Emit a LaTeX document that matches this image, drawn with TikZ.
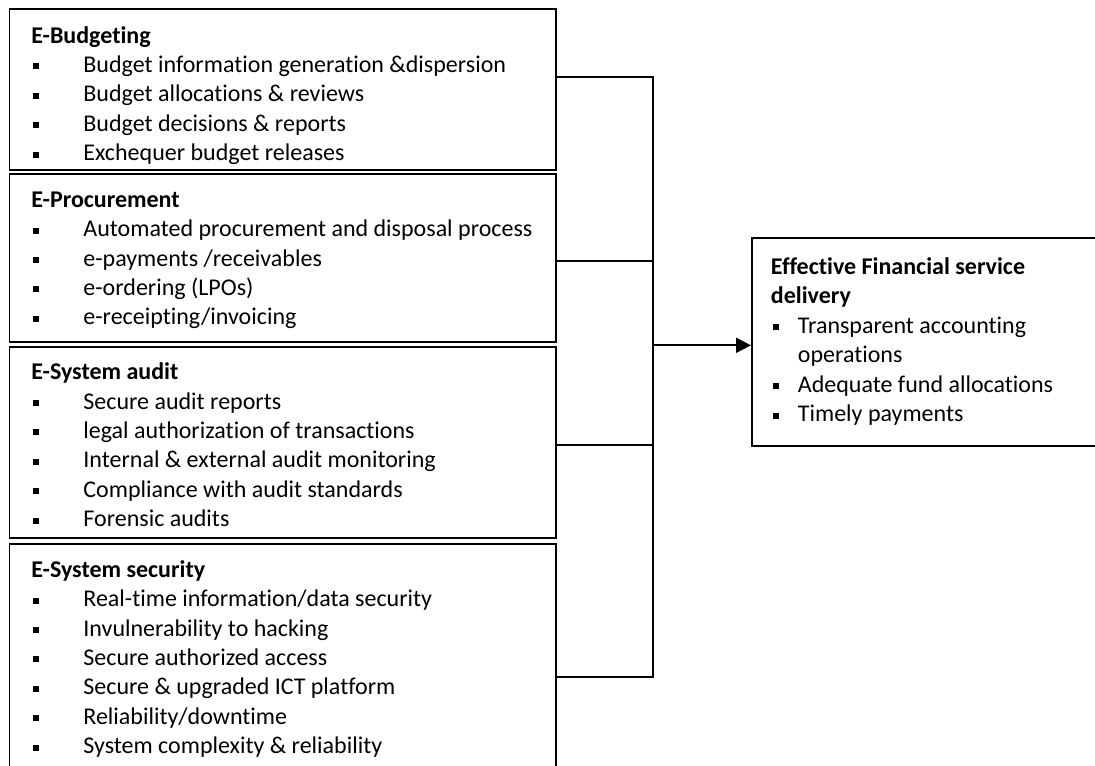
\documentclass[tikz,border=0pt]{standalone}
\usepackage{fontspec}
\setmainfont{Carlito}[Ligatures=NoCommon]
\usetikzlibrary{positioning,arrows.meta}

\newcommand{\hd}[1]{\rule{0pt}{10pt}\textbf{#1}}
\newcommand{\itm}[2][26pt]{\makebox[#1][l]{\hspace{0.8pt}\rule[1.5pt]{3pt}{3pt}}#2}

\tikzset{
  blk/.style={draw,line width=0.9pt,anchor=north west,inner sep=0pt},
  txt/.style={anchor=north west,inner sep=0pt,align=left,font=\fontsize{12}{14.7}\selectfont},
}

\begin{document}
\begin{tikzpicture}[x=0.5pt,y=-0.5pt,line width=0.9pt,>={Triangle[length=7.5pt,width=7.5pt]}]
\clip (0,0) rectangle (1095,765);

% the four input boxes
\node[blk,minimum width=273.1pt,minimum height=80.1pt] (b1) at (8.5,8.5) {};
\node[blk,minimum width=273.1pt,minimum height=83.7pt] (b2) at (8.5,173.3) {};
\node[blk,minimum width=273.1pt,minimum height=95.8pt] (b3) at (8.5,345.7) {};
\node[blk,minimum width=273.1pt,minimum height=128.4pt] (b4) at (8.5,543.3) {};
% outcome box
\node[blk,minimum width=179.5pt,minimum height=104pt] (out) at (751,237) {};

\node[txt] (t1) at ([xshift=11pt,yshift=-6.8pt]b1.north west) {\hd{E-Budgeting}\\
  \itm{Budget information generation \&dispersion}\\
  \itm{Budget allocations \& reviews}\\
  \itm{Budget decisions \& reports}\\
  \itm{Exchequer budget releases}};
\node[txt] (t2) at ([xshift=11pt,yshift=-6.5pt]b2.north west) {\hd{E-Procurement}\\
  \itm{Automated procurement and disposal process}\\
  \itm{e-payments /receivables}\\
  \itm{e-ordering (LPOs)}\\
  \itm{e-receipting/invoicing}};
\node[txt] (t3) at ([xshift=11pt,yshift=-6.5pt]b3.north west) {\hd{E-System audit}\\
  \itm{Secure audit reports}\\
  \itm{legal authorization of transactions}\\
  \itm{Internal \& external audit monitoring}\\
  \itm{Compliance with audit standards}\\
  \itm{Forensic audits}};
\node[txt] (t4) at ([xshift=11pt,yshift=-6.5pt]b4.north west) {\hd{E-System security}\\
  \itm{Real-time information/data security}\\
  \itm{Invulnerability to hacking}\\
  \itm{Secure authorized access}\\
  \itm{Secure \& upgraded ICT platform}\\
  \itm{Reliability/downtime}\\
  \itm{System complexity \& reliability}};
\node[txt] (t5) at ([xshift=9.5pt,yshift=-8.3pt]out.north west) {\hd{Effective Financial service}\\
  \textbf{delivery}\\
  \itm[13.5pt]{Transparent accounting}\\
  \hspace*{13.5pt}operations\\
  \itm[13.5pt]{Adequate fund allocations}\\
  \itm[13.5pt]{Timely payments}};

% joining lines
\coordinate (j1) at (652.7,76.7);
\coordinate (j2) at (652.7,261);
\coordinate (j3) at (652.7,445);
\coordinate (j4) at (652.7,676.7);
\coordinate (jm) at (652.7,345.3);
\draw (b1.east |- j1) -- (j1) -- (j4) -- (b4.east |- j4);
\draw (b2.east |- j2) -- (j2);
\draw (b3.east |- j3) -- (j3);
\draw[->] (jm) -- (jm -| out.west);
\end{tikzpicture}
\end{document}
